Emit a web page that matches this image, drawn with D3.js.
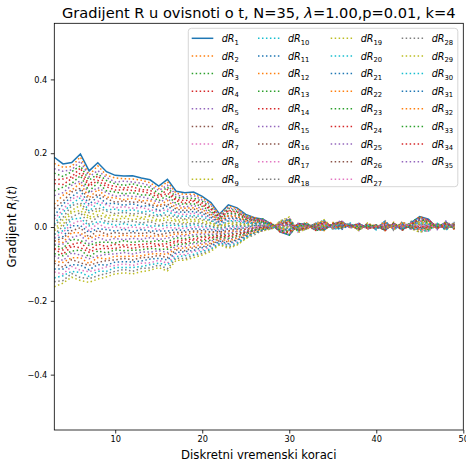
<!DOCTYPE html>
<html><head><meta charset="utf-8">
<script src="https://cdn.jsdelivr.net/npm/d3@7"></script>
<style>body{margin:0;background:#fff} svg{display:block} text{font-family:"DejaVu Sans",sans-serif;fill:#000}</style>
</head><body><svg id="c" width="466" height="466"></svg>
<script>
// discrete time steps (x)
const timeSteps = [3,4,5,6,7,8,9,10,11,12,13,14,15,16,17,18,19,20,21,22,23,24,25,26,27,28,29,30,31,32,33,34,35,36,37,38,39,40,41,42,43,44,45,46,47,48,49];
const xTicks = [10,20,30,40,50];
const yTicks = [-0.4,-0.2,0.0,0.2,0.4];
// gradient values, in thousandths
const dR1  = [189,171,175,198,152,174,150,140,138,139,133,128,111,129,97,93,95,83,66,35,60,52,34,25,21,7,-14,-22,8,9,-7,-8,8,15,-1,9,-3,4,-9,10,-8,12,28,21,-4,14,-5];
const dR2  = [172,162,164,190,141,166,140,133,131,130,127,120,104,123,91,89,89,79,61,33,56,50,31,26,17,11,-14,-18,3,11,-6,-10,12,12,2,5,-2,7,-10,13,-8,9,29,16,-1,14,-7];
const dR35 = [158,151,155,179,136,153,134,122,124,122,119,112,99,113,87,81,86,73,59,30,52,47,29,19,21,5,-8,-21,10,4,-4,-4,6,18,-4,10,-6,5,-5,7,-3,13,23,20,-7,16,-2];
const dR3  = [146,137,150,166,127,144,126,117,113,117,110,108,90,108,80,78,78,70,53,28,51,42,28,22,22,3,-9,-22,7,11,-10,-4,4,14,4,6,1,-1,-5,7,-9,15,25,16,0,8,-3];
const dR34 = [128,130,136,160,114,139,115,110,106,109,101,100,84,101,74,72,73,65,49,26,45,41,25,18,16,9,-15,-14,10,5,-2,-6,9,9,1,10,-4,0,-2,9,-8,6,26,19,-4,9,1];
const dR4  = [118,115,131,146,110,126,109,100,101,99,97,91,80,92,71,65,70,59,48,22,44,36,25,23,17,4,-7,-14,2,5,-9,-1,7,15,-1,4,2,5,-10,10,-4,9,20,20,0,9,-6];
const dR33 = [98,108,118,139,97,120,98,95,90,93,87,86,71,86,63,62,63,56,42,21,38,35,21,19,12,9,-10,-11,1,9,-3,-7,10,10,3,2,0,6,-7,11,-6,6,23,11,1,12,-4];
const dR5  = [85,93,113,125,92,107,93,83,86,83,82,76,67,77,60,54,59,49,40,17,37,30,21,17,18,2,-6,-16,5,10,-8,-1,3,12,5,4,2,-2,-2,5,-7,13,21,12,1,6,-1];
const dR32 = [62,86,100,119,79,102,81,79,74,78,71,72,57,72,52,51,52,47,34,16,31,29,17,12,15,4,-3,-13,6,2,-1,1,4,14,-2,7,-5,3,0,4,1,10,16,14,-5,12,1];
const dR6  = [50,70,95,105,74,89,77,67,71,67,68,61,55,62,49,44,49,40,32,12,30,24,18,17,14,2,-4,-8,0,4,-7,2,6,13,0,2,4,4,-7,8,-2,7,15,17,1,7,-4];
const dR31 = [30,62,82,99,61,83,64,64,59,63,56,58,44,57,41,40,42,37,26,12,24,23,14,10,11,7,-10,-6,6,2,1,-2,6,5,2,7,-2,-1,2,6,-4,3,19,14,-1,5,4];
const dR7  = [22,47,76,85,56,70,60,52,55,51,53,47,42,48,38,33,38,31,24,7,23,18,14,13,8,8,-6,-3,-2,7,-1,-3,8,7,5,0,1,4,-3,8,-3,4,17,7,3,9,-2];
const dR30 = [8,40,63,79,43,65,47,48,43,47,41,43,31,43,30,29,31,28,18,7,17,17,10,10,14,0,-2,-9,2,8,-5,3,1,9,6,1,4,-3,1,3,-4,10,15,8,3,3,2];
const dR8  = [4,26,58,65,39,52,43,36,40,35,38,32,29,33,27,22,28,21,17,2,16,12,10,5,11,2,1,-6,3,0,1,4,2,11,-1,5,-3,2,3,1,3,8,10,10,-3,9,3];
const dR29 = [-7,20,45,59,26,46,31,32,28,32,26,29,18,28,19,19,21,18,11,2,10,11,6,11,9,1,0,-1,-3,2,-4,6,4,10,1,-1,5,3,-3,6,1,4,10,12,3,4,-1];
const dR9  = [-10,7,40,45,21,33,26,20,24,20,23,18,16,19,16,11,17,12,9,-3,9,6,6,4,6,6,-6,1,3,1,3,2,5,2,4,5,-1,-3,6,3,-1,1,13,9,0,2,6];
const dR28 = [-20,2,27,39,8,28,14,16,13,16,11,15,5,13,8,8,10,9,3,-3,3,5,2,6,3,6,-2,4,-5,5,2,0,6,4,6,-3,3,3,0,6,0,1,11,2,5,6,1];
const dR10 = [-20,-10,21,24,3,15,10,5,9,4,8,3,3,4,5,1,7,2,1,-7,2,1,2,4,9,-1,2,-2,-1,6,-3,6,-1,6,7,-1,5,-4,5,0,-1,8,9,3,5,0,4];
const dR27 = [-29,-14,8,18,-10,9,-3,1,-3,0,-3,0,-8,-1,-3,-3,0,0,-5,-8,-3,0,-2,-1,6,1,5,1,0,-1,3,8,1,8,0,3,-2,1,7,-2,7,6,4,5,-2,6,5];
const dR11 = [-30,-26,3,4,-15,-4,-7,-11,-6,-12,-7,-11,-11,-11,-7,-10,-4,-7,-7,-12,-5,-5,-2,4,4,-1,5,6,-6,0,-2,9,2,7,2,-3,7,2,0,3,4,2,4,7,5,1,1];
const dR26 = [-38,-30,-10,-2,-28,-9,-20,-15,-18,-15,-18,-14,-21,-16,-14,-14,-11,-10,-13,-13,-10,-6,-6,-3,1,4,-1,8,0,-1,5,5,3,-1,5,3,1,-4,9,0,2,-1,7,4,2,-1,8];
const dR12 = [-38,-42,-15,-16,-32,-22,-24,-27,-22,-26,-23,-25,-24,-25,-18,-21,-14,-16,-14,-17,-12,-11,-6,0,-2,5,2,11,-8,4,4,4,5,1,7,-5,4,2,4,3,3,-1,5,-3,6,3,3];
const dR25 = [-47,-46,-28,-22,-45,-28,-36,-31,-34,-31,-33,-29,-34,-30,-25,-24,-21,-19,-20,-18,-17,-12,-10,-2,4,-2,6,5,-4,4,-1,9,-3,3,8,-3,6,-5,8,-3,2,6,3,-2,7,-3,6];
const dR13 = [-48,-58,-33,-36,-50,-41,-41,-43,-37,-42,-38,-40,-37,-40,-29,-32,-25,-26,-22,-22,-19,-17,-10,-8,1,-1,9,8,-3,-3,6,11,-1,6,1,0,0,0,10,-4,10,3,-2,0,0,4,8];
const dR24 = [-58,-62,-47,-42,-63,-46,-53,-47,-49,-48,-48,-44,-47,-45,-37,-35,-32,-28,-28,-23,-24,-18,-14,-2,-1,-2,9,13,-9,-1,0,13,1,4,4,-5,8,0,4,0,7,0,-2,2,6,-2,3];
const dR14 = [-60,-74,-52,-56,-68,-59,-58,-58,-53,-58,-53,-54,-50,-54,-40,-43,-35,-35,-30,-27,-26,-23,-14,-9,-4,3,3,15,-3,-3,8,9,1,-4,6,0,2,-5,13,-2,5,-4,2,-1,4,-4,11];
const dR23 = [-72,-78,-65,-62,-81,-65,-70,-62,-64,-63,-62,-58,-60,-60,-47,-46,-42,-38,-36,-27,-31,-24,-17,-7,-6,3,6,18,-11,2,6,7,3,-2,8,-7,6,1,7,0,6,-3,-1,-7,8,0,5];
const dR15 = [-78,-91,-70,-76,-86,-78,-74,-73,-69,-73,-68,-68,-64,-69,-51,-53,-45,-44,-38,-32,-33,-29,-17,-9,0,-4,10,12,-7,2,2,13,-5,0,9,-6,8,-6,12,-5,5,3,-3,-6,9,-6,9];
const dR22 = [-92,-96,-83,-83,-99,-83,-87,-79,-80,-79,-78,-73,-72,-74,-58,-57,-53,-47,-44,-32,-38,-30,-21,-14,-3,-2,13,16,-6,-5,8,15,-3,2,3,-2,1,-2,14,-7,13,1,-8,-4,2,1,10];
const dR16 = [-98,-109,-88,-97,-104,-96,-91,-89,-85,-89,-83,-82,-77,-83,-62,-64,-56,-54,-46,-37,-40,-35,-21,-9,-5,-4,13,20,-12,-3,3,17,-1,1,5,-8,10,-1,8,-2,10,-3,-8,-2,8,-5,6];
const dR21 = [-114,-114,-102,-103,-116,-102,-103,-95,-94,-95,-92,-87,-85,-89,-69,-67,-63,-56,-51,-38,-45,-36,-25,-16,-8,1,7,22,-6,-5,10,12,-1,-7,7,-2,4,-6,16,-5,8,-6,-4,-5,6,-7,13];
const dR17 = [-122,-127,-107,-117,-121,-115,-108,-104,-100,-104,-98,-97,-90,-98,-73,-75,-66,-63,-53,-42,-47,-41,-26,-13,-11,2,10,25,-14,0,9,11,1,-5,9,-10,7,0,11,-2,9,-6,-6,-12,10,-3,8];
const dR20 = [-138,-132,-120,-123,-134,-120,-120,-110,-110,-110,-107,-102,-98,-103,-80,-78,-74,-66,-59,-43,-50,-44,-28,-15,-5,-5,14,19,-10,1,4,17,-6,-3,11,-8,9,-8,16,-8,8,1,-9,-11,10,-9,11];
const dR18 = [-148,-145,-126,-137,-140,-132,-126,-120,-115,-120,-112,-111,-103,-113,-84,-86,-77,-72,-61,-46,-54,-47,-30,-21,-8,-4,17,23,-8,-7,11,18,-5,0,4,-5,3,-3,17,-9,15,-2,-14,-9,4,-2,13];
const dR19 = [-162,-152,-136,-145,-150,-141,-135,-127,-124,-127,-121,-117,-110,-119,-90,-90,-83,-76,-66,-48,-58,-49,-32,-15,-10,-5,17,27,-15,-5,5,20,-3,-2,6,-10,11,-2,11,-5,13,-5,-14,-7,10,-8,8];

const seriesValues = [dR1,dR2,dR3,dR4,dR5,dR6,dR7,dR8,dR9,dR10,dR11,dR12,dR13,dR14,dR15,dR16,dR17,dR18,dR19,dR20,dR21,dR22,dR23,dR24,dR25,dR26,dR27,dR28,dR29,dR30,dR31,dR32,dR33,dR34,dR35];
const seriesIndex = d3.range(1, 36);
const palette = ['#1f77b4','#ff7f0e','#2ca02c','#d62728','#9467bd','#8c564b','#e377c2','#7f7f7f','#bcbd22','#17becf'];

const svg = d3.select('#c');
const M = {l:54.3, r:463.3, t:23.3, b:430};
const x = d3.scaleLinear().domain([3,50]).range([M.l,M.r]);
const y = d3.scaleLinear().domain([-0.55,0.552]).range([M.b,M.t]);

svg.append('defs').append('clipPath').attr('id','clip')
  .append('rect').attr('x',M.l).attr('y',M.t).attr('width',M.r-M.l).attr('height',M.b-M.t);

const line = d3.line().x((v,j)=>x(timeSteps[j])).y(v=>y(v/1000));
const gl = svg.append('g').attr('clip-path','url(#clip)');
seriesValues.forEach((vals,i)=>{
  gl.append('path').attr('d',line(vals)).attr('fill','none')
    .attr('stroke',palette[i%10]).attr('stroke-width',1.5)
    .attr('stroke-dasharray', i===0 ? null : '1.5,2.475');
});

// axes
const fmt = d => d3.format('.1f')(d).replace('-', '\u2212');
const gx = svg.append('g').attr('transform',`translate(0,${M.b})`)
  .call(d3.axisBottom(x).tickValues(xTicks).tickSize(3.5).tickPadding(3).tickFormat(d3.format('d')));
const gy = svg.append('g').attr('transform',`translate(${M.l},0)`)
  .call(d3.axisLeft(y).tickValues(yTicks).tickSize(3.5).tickPadding(3.5).tickFormat(fmt));
[gx,gy].forEach(g=>{
  g.select('.domain').remove();
  g.selectAll('line').attr('stroke','#000').attr('stroke-width',0.8);
  g.selectAll('text').attr('font-size','8.2px').attr('font-family','DejaVu Sans').attr('fill','#000');
});
svg.append('rect').attr('x',M.l).attr('y',M.t).attr('width',M.r-M.l).attr('height',M.b-M.t)
  .attr('fill','none').attr('stroke','#000').attr('stroke-width',0.8);

// title
const title = svg.append('text').attr('x',(M.l+M.r)/2).attr('y',18).attr('text-anchor','middle').attr('font-size','14.6px');
title.append('tspan').text('Gradijent R u ovisnoti o t, N=35, ');
title.append('tspan').attr('font-style','italic').text('\u03bb');
title.append('tspan').text('=1.00,p=0.01, k=4');

// x label
svg.append('text').attr('x',(M.l+M.r)/2).attr('y',459).attr('text-anchor','middle').attr('font-size','11.7px').text('Diskretni vremenski koraci');
// y label
const yl = svg.append('text').attr('transform',`translate(16,${(M.t+M.b)/2}) rotate(-90)`).attr('text-anchor','middle').attr('font-size','11.7px');
yl.append('tspan').text('Gradijent ');
yl.append('tspan').attr('font-style','italic').text('R');
yl.append('tspan').attr('font-style','italic').attr('font-size','8px').attr('dy',2.5).text('i');
yl.append('tspan').attr('dy',-2.5).text('(');
yl.append('tspan').attr('font-style','italic').text('t');
yl.append('tspan').text(')');

// legend
const lg = svg.append('g');
lg.append('rect').attr('x',188.3).attr('y',28.3).attr('width',269.5).attr('height',158.4).attr('rx',3)
  .attr('fill','#fff').attr('fill-opacity',0.8).attr('stroke','#cccccc').attr('stroke-width',0.8);
const colX = [191.7, 258, 330.7, 401.7];
seriesIndex.forEach((n,i)=>{
  const col = Math.floor(i/9), row = i%9;
  const cy = 38.3 + row*17.63;
  lg.append('line').attr('x1',colX[col]).attr('x2',colX[col]+21.6).attr('y1',cy).attr('y2',cy)
    .attr('stroke',palette[i%10]).attr('stroke-width',1.5).attr('stroke-dasharray', i===0?null:'1.5,2.475');
  const t = lg.append('text').attr('x',colX[col]+30).attr('y',cy+3.6).attr('font-size','9.6px');
  t.append('tspan').attr('font-style','italic').text('dR');
  t.append('tspan').attr('font-size','6.8px').attr('dy',2.6).text(String(n));
});
</script></body></html>
